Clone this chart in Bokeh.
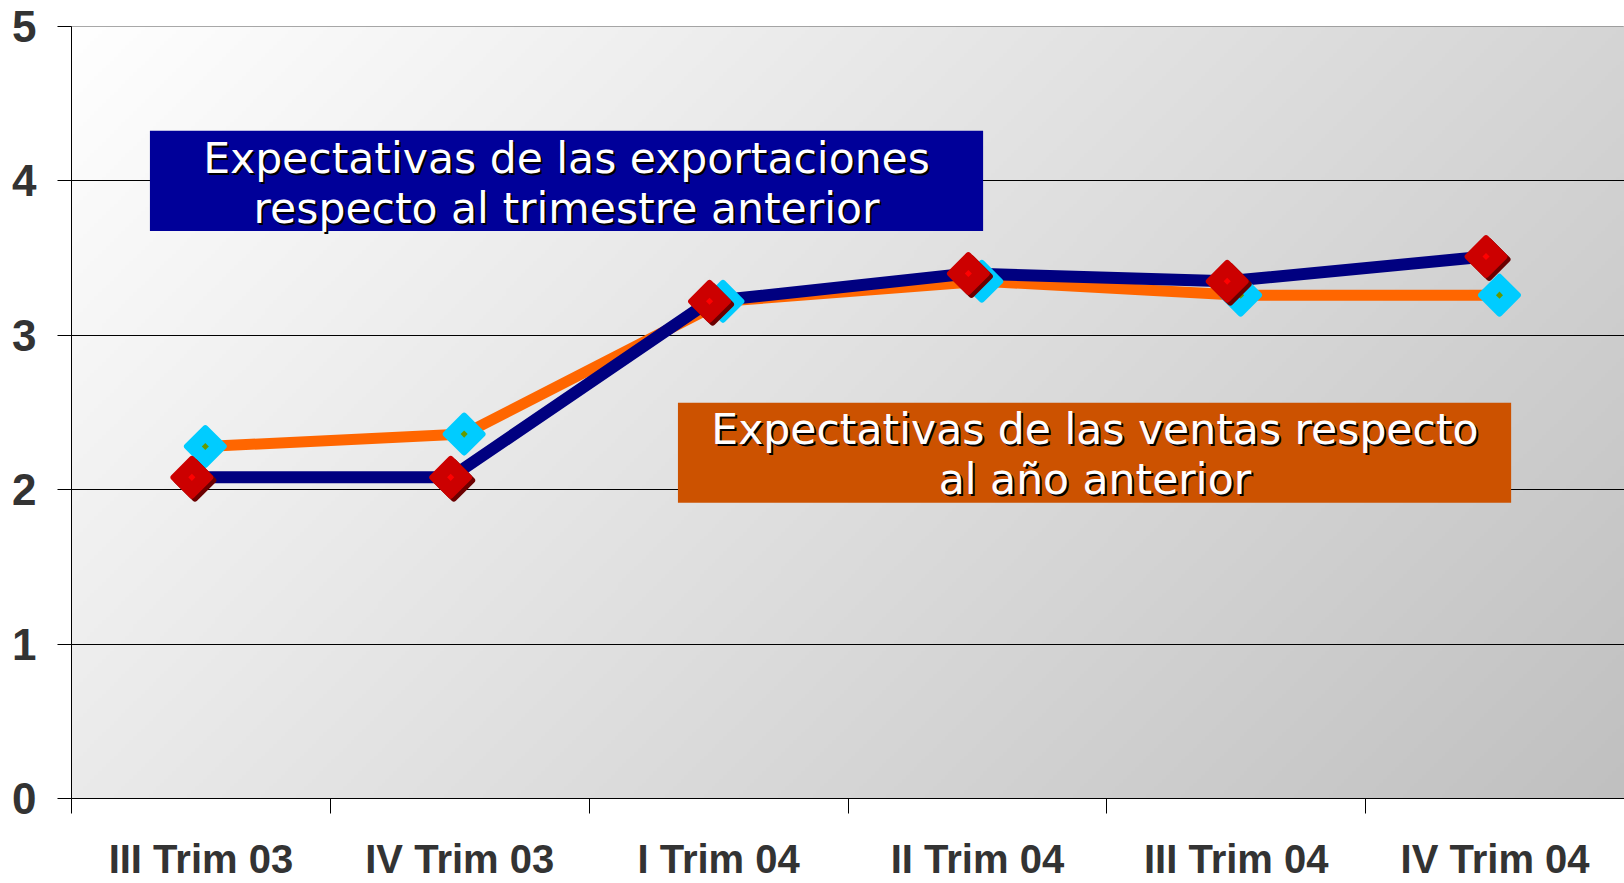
import numpy as np
from bokeh.plotting import figure
from bokeh.models import FixedTicker, BoxAnnotation, Label, Range1d, ColumnDataSource
from bokeh.transform import dodge
from bokeh.embed import file_html
from bokeh.resources import INLINE

# ---- data ----
categories = ["III Trim 03", "IV Trim 03", "I Trim 04", "II Trim 04", "III Trim 04", "IV Trim 04"]
exportaciones = [2.08, 2.08, 3.22, 3.40, 3.35, 3.51]   # navy line
ventas = [2.28, 2.36, 3.22, 3.35, 3.26, 3.26]          # orange line
y_ticks = [0, 1, 2, 3, 4, 5]
label_exp = ["Expectativas de las exportaciones", "respecto al trimestre anterior"]
label_ven = ["Expectativas de las ventas respecto", "al año anterior"]

n = len(categories)
x_centers = [i + 0.5 for i in range(n)]
x_bounds = list(range(n + 1))

W, H = 1624, 883
p = figure(width=W, height=H, x_range=Range1d(0, n), y_range=Range1d(y_ticks[0], y_ticks[-1]),
           output_backend="svg", toolbar_location=None,
           min_border_left=71, min_border_right=0, min_border_top=26, min_border_bottom=85)
p.border_fill_color = "white"
p.background_fill_color = "white"
p.outline_line_color = "#8c8c8c"

# gradient background (white top-left -> gray bottom-right)
nx, ny = 400, 200
fw, fh = 1553, 772
ii = (np.arange(nx) + 0.5) / nx * fw
jj = (1 - (np.arange(ny) + 0.5) / ny) * fh
t = (ii[None, :] + jj[:, None]) / (fw + fh)
g = (255 - 63 * t).astype(np.uint32)
img = (255 << 24) | (g << 16) | (g << 8) | g
p.image_rgba(image=[img.astype(np.uint32)], x=0, y=y_ticks[0], dw=n, dh=y_ticks[-1] - y_ticks[0], level="image")

# grid
p.xgrid.visible = False
p.ygrid.ticker = FixedTicker(ticks=y_ticks[1:-1])
p.ygrid.grid_line_color = "black"
p.ygrid.grid_line_width = 1

# axes
tick_font = "Liberation Sans"
p.yaxis.ticker = FixedTicker(ticks=y_ticks)
p.yaxis.axis_line_color = "black"
p.yaxis.major_tick_line_color = "black"
p.yaxis.major_tick_out = 14
p.yaxis.major_tick_in = 0
p.yaxis.minor_tick_line_color = None
p.yaxis.major_label_text_font = tick_font
p.yaxis.major_label_text_font_style = "bold"
p.yaxis.major_label_text_font_size = "44px"
p.yaxis.major_label_text_color = "#333333"
p.yaxis.major_label_standoff = 21

p.xaxis.ticker = FixedTicker(ticks=x_centers, minor_ticks=x_bounds)
p.xaxis.axis_line_color = "black"
p.xaxis.major_tick_line_color = None
p.xaxis.major_tick_out = 0
p.xaxis.major_tick_in = 0
p.xaxis.minor_tick_line_color = "black"
p.xaxis.minor_tick_out = 15
p.xaxis.minor_tick_in = 0
p.xaxis.major_label_overrides = {xc: c for xc, c in zip(x_centers, categories)}
p.xaxis.major_label_text_font = tick_font
p.xaxis.major_label_text_font_style = "bold"
p.xaxis.major_label_text_font_size = "40px"
p.xaxis.major_label_text_color = "#333333"
p.xaxis.major_label_standoff = 23

src = ColumnDataSource(dict(x=x_centers, exp=exportaciones, ven=ventas))
dx_ven, dx_exp = 0.017, -0.035
msize, mline = 26, 6

p.line(x=dodge("x", dx_ven), y="ven", source=src, line_color="#FF6600", line_width=11, line_join="round")
p.line(x=dodge("x", dx_exp), y="exp", source=src, line_color="#000080", line_width=12, line_join="round")

# cyan markers (ventas)
p.scatter(x=dodge("x", dx_ven), y="ven", source=src, marker="square", angle=np.pi / 4, size=msize,
          fill_color="#00CCFF", line_color="#00CCFF", line_width=mline, line_join="round")
p.scatter(x=dodge("x", dx_ven), y="ven", source=src, marker="square", angle=np.pi / 4, size=5,
          fill_color="#669900", line_color=None)
# red markers (exportaciones) with shadow
p.scatter(x=dodge("x", dx_exp + 0.012), y=dodge("exp", -0.019), source=src, marker="square", angle=np.pi / 4,
          size=msize, fill_color="#6b0000", line_color="#6b0000", line_width=mline, line_join="round")
p.scatter(x=dodge("x", dx_exp), y="exp", source=src, marker="square", angle=np.pi / 4, size=msize,
          fill_color="#CC0000", line_color="#CC0000", line_width=mline, line_join="round")
p.scatter(x=dodge("x", dx_exp), y="exp", source=src, marker="square", angle=np.pi / 4, size=5,
          fill_color="#FF0000", line_color=None)

# annotation boxes
p.add_layout(BoxAnnotation(left=0.303, right=3.522, top=4.324, bottom=3.676,
                           fill_color="#000099", fill_alpha=1, line_color=None))
p.add_layout(BoxAnnotation(left=2.343, right=5.562, top=2.563, bottom=1.916,
                           fill_color="#CC5200", fill_alpha=1, line_color=None))


def add_text(x, y, txt):
    for col, off in (("black", 2), ("white", 0)):
        p.add_layout(Label(x=x, y=y, text=txt, text_align="center", text_baseline="alphabetic",
                           text_font="DejaVu Sans", text_font_size="42.5px", text_color=col,
                           x_offset=off, y_offset=-off))


add_text(1.9125, 4.144, label_exp[0])
add_text(1.9125, 3.823, label_exp[1])
add_text(3.954, 2.387, label_ven[0])
add_text(3.954, 2.063, label_ven[1])

open("out.html", "w").write(file_html(p, INLINE))
